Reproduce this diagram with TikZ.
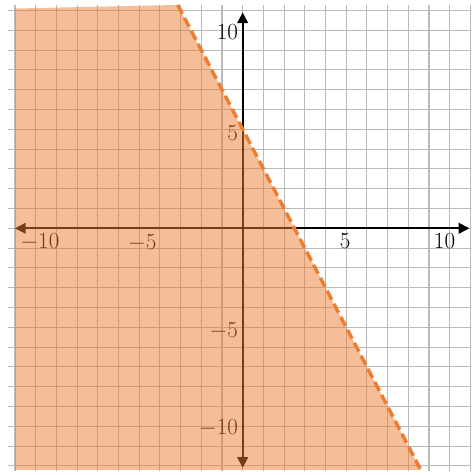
\documentclass[tikz,border=0pt]{standalone}
\usepackage{amsmath}
\usepackage{tikz}
\usetikzlibrary{arrows.meta}

\begin{document}
\begin{tikzpicture}[
  x=15.525pt, y=14.85pt,
  gridline/.style={draw=black!27, line width=0.8pt},
  axis/.style={{Triangle[length=8pt,width=8pt]}-{Triangle[length=8pt,width=8pt]}, line width=1.4pt},
  lbl/.style={font=\fontsize{17}{19}\selectfont, inner sep=1pt},
  region/.style={fill={rgb,255:red,237;green,125;blue,49}, fill opacity=0.5},
  boundary/.style={draw={rgb,255:red,237;green,125;blue,49}, line width=2.6pt, dash pattern=on 7.5pt off 3.5pt}
]
\useasboundingbox (-11.725,-12.46) rectangle (11.03,11.53);

% Grid
\foreach \x in {-11,...,11}
  \draw[gridline] (\x,-12.25) -- (\x,11.3);
\foreach \y in {-12,...,11}
  \draw[gridline] (-11.35,\y) -- (11,\y);

% Axes
\coordinate (xl) at (-11,0);
\coordinate (xr) at (10.95,0);
\coordinate (yt) at (0,10.9);
\coordinate (yb) at (0,-12.1);
\draw[axis] (xl) -- (xr);
\draw[axis] (yb) -- (yt);

% Tick labels
\node[lbl, anchor=north] (xm10) at (-9.8,-0.2) {$-10$};
\node[lbl, anchor=north] (xm5)  at (-4.86,-0.25) {$-5$};
\node[lbl, anchor=north] (xp5)  at (4.95,-0.2) {$5$};
\node[lbl, anchor=north] (xp10) at (9.75,-0.2) {$10$};
\node[lbl, anchor=east] (yp10) at (-0.15,9.9) {$10$};
\node[lbl, anchor=east] (yp5)  at (-0.15,4.8) {$5$};
\node[lbl, anchor=east] (ym5)  at (-0.15,-5.2) {$-5$};
\node[lbl, anchor=east] (ym10) at (-0.15,-10.1) {$-10$};

% Solution region 2x + y < 5
\coordinate (ltop) at (-3.14,11.28);
\coordinate (lbot) at (8.6,-12.2);
\fill[region] (-11,11.1) -- (ltop) -- (lbot) -- (-11,-12.2) -- cycle;
\draw[boundary] (ltop) -- (lbot);

\end{tikzpicture}
\end{document}
